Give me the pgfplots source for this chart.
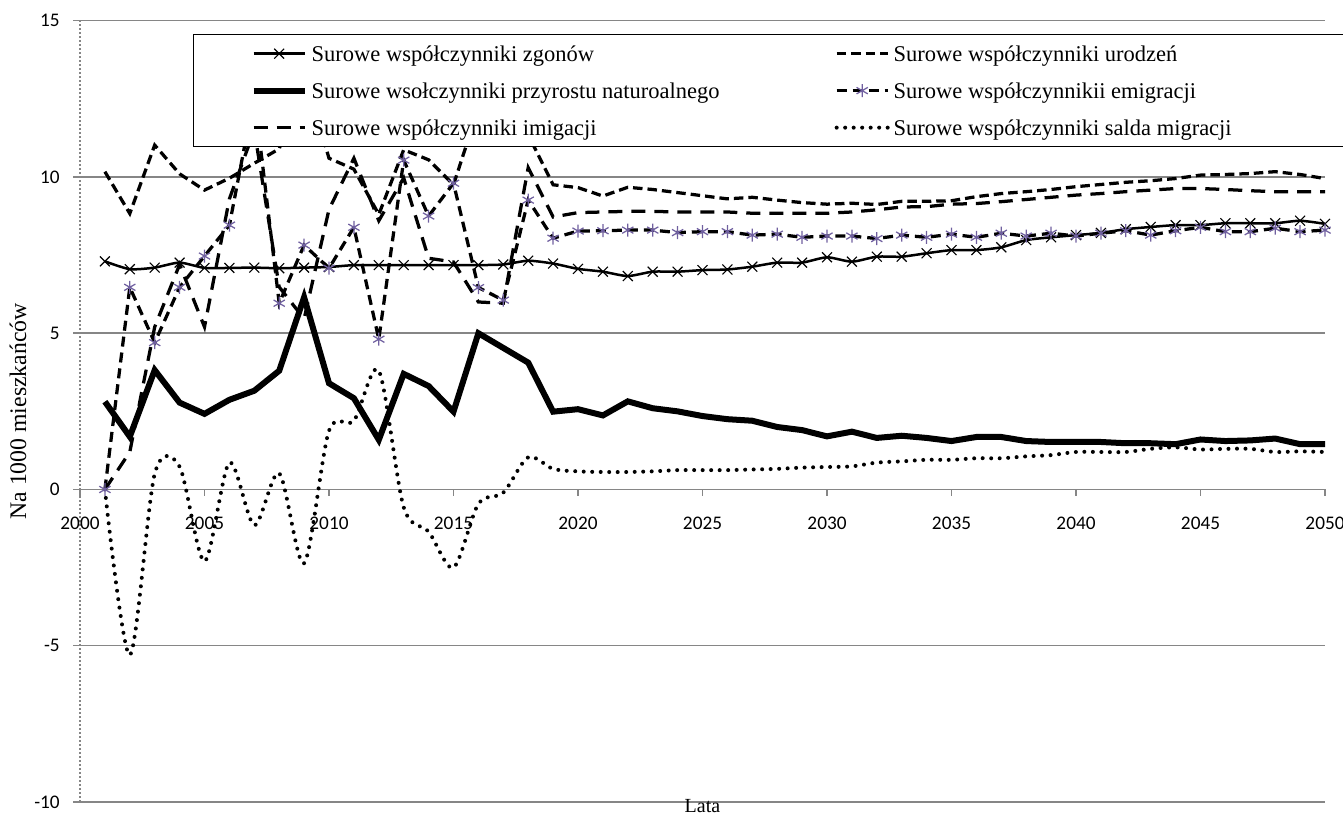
\documentclass[border=0pt]{standalone}
\usepackage{fontspec}
\setmainfont{Liberation Serif}
\newfontfamily\calib{Carlito}
\usepackage{pgfplots}
\usepackage{pgfplotstable}
\pgfplotsset{compat=1.18}
\definecolor{purp}{RGB}{112,96,160}
\definecolor{gridc}{RGB}{134,134,134}

\pgfplotstableread{
year zg ur pr em im sm
2001 7.30 10.17 2.81 0.00 0.00 0.00
2002 7.05 8.83 1.69 6.47 1.20 -5.30
2003 7.10 11.02 3.82 4.70 5.20 0.50
2004 7.26 10.10 2.78 6.47 7.20 0.73
2005 7.09 9.58 2.42 7.47 5.20 -2.30
2006 7.09 9.96 2.87 8.46 9.30 0.86
2007 7.10 10.44 3.16 12.60 11.50 -1.14
2008 7.08 10.90 3.80 5.96 6.48 0.52
2009 7.10 13.30 6.15 7.82 5.46 -2.36
2010 7.12 10.60 3.40 7.08 8.96 1.88
2011 7.18 10.25 2.92 8.39 10.60 2.20
2012 7.18 8.80 1.59 4.81 8.60 3.80
2013 7.18 10.87 3.70 10.54 9.97 -0.57
2014 7.18 10.55 3.31 8.75 7.40 -1.35
2015 7.18 9.75 2.49 9.80 7.28 -2.50
2016 7.18 12.20 5.00 6.46 6.00 -0.46
2017 7.20 11.70 4.53 6.06 5.96 -0.10
2018 7.32 11.35 4.06 9.26 10.30 1.03
2019 7.23 9.75 2.49 8.04 8.72 0.66
2020 7.06 9.66 2.57 8.27 8.86 0.58
2021 6.97 9.39 2.37 8.28 8.88 0.56
2022 6.83 9.67 2.82 8.30 8.90 0.56
2023 6.97 9.60 2.60 8.30 8.90 0.58
2024 6.97 9.50 2.50 8.22 8.88 0.62
2025 7.02 9.40 2.35 8.25 8.88 0.62
2026 7.04 9.30 2.25 8.25 8.88 0.62
2027 7.13 9.35 2.20 8.14 8.84 0.64
2028 7.26 9.26 2.00 8.17 8.84 0.66
2029 7.26 9.18 1.90 8.07 8.84 0.70
2030 7.43 9.13 1.70 8.11 8.84 0.72
2031 7.29 9.16 1.85 8.11 8.88 0.74
2032 7.45 9.12 1.65 8.03 8.95 0.86
2033 7.45 9.22 1.72 8.14 9.04 0.90
2034 7.56 9.22 1.65 8.07 9.05 0.95
2035 7.66 9.24 1.55 8.17 9.13 0.95
2036 7.66 9.37 1.68 8.07 9.15 1.00
2037 7.75 9.47 1.68 8.20 9.21 1.00
2038 7.98 9.53 1.55 8.11 9.28 1.06
2039 8.07 9.60 1.52 8.20 9.35 1.10
2040 8.14 9.69 1.52 8.11 9.42 1.20
2041 8.21 9.76 1.52 8.20 9.47 1.20
2042 8.33 9.83 1.48 8.28 9.53 1.20
2043 8.40 9.88 1.48 8.14 9.58 1.30
2044 8.46 9.95 1.45 8.28 9.63 1.35
2045 8.46 10.06 1.60 8.39 9.63 1.28
2046 8.52 10.08 1.55 8.25 9.60 1.30
2047 8.52 10.11 1.57 8.25 9.56 1.30
2048 8.52 10.17 1.63 8.36 9.53 1.20
2049 8.60 10.08 1.45 8.25 9.53 1.22
2050 8.50 9.95 1.45 8.30 9.53 1.20
}\data

\begin{document}
\begin{tikzpicture}
\begin{axis}[
  name=ax, at={(0,0)}, anchor=south west,
  scale only axis, width=498pt, height=312.5pt,
  xmin=2000, xmax=2050, ymin=-10, ymax=15,
  axis x line=middle, axis y line=left,
  axis line style={-},
  x axis line style={draw=gridc, line width=0.6pt},
  y axis line style={draw=gridc, densely dotted, line width=0.6pt},
  hide obscured x ticks=false, hide obscured y ticks=false,
  xtick={2000,2005,...,2050},
  ytick={-10,-5,0,5,10,15},
  tick align=outside, major tick length=2.6pt,
  tick style={draw=gridc, line width=0.6pt, solid},
  ymajorgrids, major grid style={draw=gridc, line width=0.6pt, solid},
  /pgf/number format/assume math mode=true,
  /pgf/number format/1000 sep={},
  ticklabel style={font=\calib\fontsize{7.7}{9}\selectfont},
  xticklabel style={yshift=-5pt},
  yticklabel style={xshift=-2pt},
  xlabel={Lata}, ylabel={Na 1000 mieszkańców},
  xlabel style={at={(axis description cs:0.5,0)}, anchor=center, yshift=-1.6pt, font=\fontsize{8}{9}\selectfont},
  ylabel style={at={([xshift=-24.8pt]axis description cs:0,0.5)}, anchor=center, font=\fontsize{9.5}{11}\selectfont},
  legend columns=2,
  legend cell align=left,
  legend image code/.code={%
    \draw[mark repeat=2,mark phase=2,#1] plot coordinates {(0pt,0pt) (10.2pt,0pt) (20.4pt,0pt)};},
  legend style={at={(0.0908,0.983)}, anchor=north west, draw=black, line width=0.5pt, fill=white,
    inner xsep=22.8pt, inner ysep=3.1pt,
    /tikz/column sep=0pt, /tikz/row sep=5.8pt,
    nodes={inner xsep=1.6pt, inner ysep=0pt, text height=7.5pt, text depth=1.5pt,
      font=\fontsize{9}{10}\selectfont}},
]
\addplot[black, line width=1.0pt, smooth, tension=0.4, mark=x, mark size=2.8pt,
  mark options={solid, line width=0.45pt}] table[x=year,y=zg] {\data};
\addlegendentry{\makebox[207.6pt][l]{Surowe współczynniki zgonów}}
\addplot[black, line width=1.3pt, dash pattern=on 3.8pt off 2pt] table[x=year,y=ur] {\data};
\addlegendentry{\makebox[159pt][l]{Surowe współczynniki urodzeń}}
\addplot[black, line width=2.4pt] table[x=year,y=pr] {\data};
\addlegendentry{Surowe wsołczynniki przyrostu naturoalnego}
\addplot[black, line width=1.3pt, dash pattern=on 4pt off 2.4pt, mark=asterisk, mark size=2.6pt,
  mark options={solid, draw=purp, line width=0.5pt}] table[x=year,y=em] {\data};
\addlegendentry{Surowe współczynnikii emigracji}
\addplot[black, line width=1.3pt, dash pattern=on 5.6pt off 3.6pt] table[x=year,y=im] {\data};
\addlegendentry{Surowe współczynniki imigacji}
\addplot[black, line width=1.6pt, line cap=round, dash pattern=on 0pt off 3.4pt, smooth, tension=0.5] table[x=year,y=sm] {\data};
\addlegendentry{Surowe współczynniki salda migracji}
\end{axis}
\pgfresetboundingbox
\path[use as bounding box] (-32pt,-4.8pt) rectangle (505.2pt,320.8pt);
\end{tikzpicture}
\end{document}
